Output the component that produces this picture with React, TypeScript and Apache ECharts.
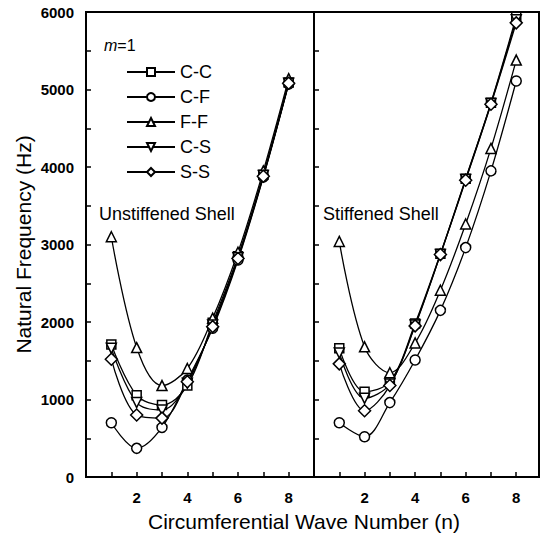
import React, { useEffect, useRef } from "react";
import * as echarts from "echarts";

const waveNumbers = [1, 2, 3, 4, 5, 6, 7, 8];
const seriesNames = ["C-C", "C-F", "F-F", "C-S", "S-S"];

// Unstiffened shell (Hz)
const ccUnstiff = [1710, 1055, 930, 1180, 1990, 2850, 3900, 5090];
const cfUnstiff = [700, 370, 640, 1250, 1920, 2800, 3870, 5070];
const ffUnstiff = [3100, 1670, 1180, 1400, 2050, 2900, 3950, 5140];
const csUnstiff = [1660, 960, 865, 1210, 1960, 2830, 3890, 5080];
const ssUnstiff = [1520, 800, 760, 1230, 1940, 2820, 3880, 5080];

// Stiffened shell (Hz)
const ccStiff = [1660, 1100, 1230, 1980, 2880, 3850, 4830, 5940];
const cfStiff = [700, 520, 960, 1510, 2150, 2960, 3950, 5110];
const ffStiff = [3040, 1680, 1345, 1730, 2410, 3265, 4240, 5380];
const csStiff = [1600, 1015, 1200, 1960, 2870, 3840, 4820, 5900];
const ssStiff = [1460, 855, 1180, 1950, 2870, 3830, 4810, 5860];

const yTickLabels = [0, 1000, 2000, 3000, 4000, 5000, 6000];
const xTickLabels = [2, 4, 6, 8];

const FONT = "'Liberation Sans', Arial, sans-serif";

const symbols: Record<string, { symbol: string; size: number; rotate: number }> = {
  "C-C": { symbol: "rect", size: 9, rotate: 0 },
  "C-F": { symbol: "circle", size: 10, rotate: 0 },
  "F-F": { symbol: "triangle", size: 10, rotate: 0 },
  "C-S": { symbol: "triangle", size: 10, rotate: 180 },
  "S-S": { symbol: "diamond", size: 12, rotate: 0 },
};

export default function App() {
  const ref = useRef<HTMLDivElement>(null);
  useEffect(() => {
    if (!ref.current) return;
    const chart = echarts.init(ref.current, null, { renderer: "svg" });
    const unstiff = [ccUnstiff, cfUnstiff, ffUnstiff, csUnstiff, ssUnstiff];
    const stiff = [ccStiff, cfStiff, ffStiff, csStiff, ssStiff];

    const mkSeries = (arr: number[][], idx: number) =>
      seriesNames.map((name, i) => ({
        name,
        type: "line",
        xAxisIndex: idx,
        yAxisIndex: idx,
        data: waveNumbers.map((n, k) => [n, arr[i][k]]),
        smooth: 0.35,
        symbol: symbols[name].symbol,
        symbolSize: symbols[name].size,
        symbolRotate: symbols[name].rotate,
        showAllSymbol: true,
        lineStyle: { color: "#000", width: 1.3 },
        itemStyle: { color: "#fff", borderColor: "#000", borderWidth: 1.5 },
        z: 3,
      }));

    const yFmt = (v: number) => (yTickLabels.includes(v) ? String(v) : "");
    const xFmt = (v: number) => (xTickLabels.includes(v) ? String(v) : "");

    const axisLine = { show: true, lineStyle: { color: "#000", width: 2 } };
    const axisTick = { show: true, inside: true, length: 5, lineStyle: { color: "#000", width: 1.5 } };
    const labelStyle = { color: "#000", fontFamily: FONT, fontSize: 15, fontWeight: "bold" as const };

    chart.setOption({
      animation: false,
      backgroundColor: "#fff",
      grid: [
        { left: 86, top: 12, width: 228, height: 465, show: true, borderColor: "#000", borderWidth: 2 },
        { left: 314, top: 12, width: 225, height: 465, show: true, borderColor: "#000", borderWidth: 2 },
      ],
      xAxis: [
        {
          type: "value", gridIndex: 0, min: 0, max: 9, interval: 1,
          axisLine, axisTick,
          axisLabel: { ...labelStyle, margin: 13, formatter: xFmt },
          splitLine: { show: false },
        },
        {
          type: "value", gridIndex: 1, min: 0, max: 8.9, interval: 1,
          axisLine, axisTick,
          axisLabel: { ...labelStyle, margin: 13, formatter: xFmt, showMaxLabel: false },
          splitLine: { show: false },
        },
      ],
      yAxis: [
        {
          type: "value", gridIndex: 0, min: 0, max: 6000, interval: 500,
          axisLine, axisTick,
          axisLabel: { ...labelStyle, margin: 12, formatter: yFmt },
          splitLine: { show: false },
          name: "Natural Frequency (Hz)",
          nameLocation: "middle",
          nameGap: 52,
          nameTextStyle: { color: "#000", fontFamily: FONT, fontSize: 21 },
        },
        {
          type: "value", gridIndex: 1, min: 0, max: 6000, interval: 500,
          axisLine, axisTick,
          axisLabel: { show: false },
          splitLine: { show: false },
        },
      ],
      legend: {
        data: seriesNames,
        orient: "vertical",
        left: 126,
        top: 63,
        padding: 0,
        itemWidth: 48,
        itemHeight: 10,
        itemGap: 7,
        textStyle: { color: "#000", fontFamily: FONT, fontSize: 18 },
        selectedMode: false,
      },
      graphic: [
        {
          type: "text", left: 104, top: 37,
          style: {
            text: "{i|m}=1",
            fontFamily: FONT, fontSize: 16, fill: "#000",
            rich: { i: { fontStyle: "italic", fontFamily: FONT, fontSize: 16 } },
          },
        },
        {
          type: "text", left: 99, top: 205,
          style: { text: "Unstiffened Shell", fontFamily: FONT, fontSize: 18, fill: "#000" },
        },
        {
          type: "text", left: 323, top: 205,
          style: { text: "Stiffened Shell", fontFamily: FONT, fontSize: 18, fill: "#000" },
        },
        {
          type: "text", left: 148, top: 511,
          style: { text: "Circumferential Wave Number (n)", fontFamily: FONT, fontSize: 21, fill: "#000" },
        },
      ],
      series: [...mkSeries(unstiff, 0), ...mkSeries(stiff, 1)],
    });
    return () => chart.dispose();
  }, []);
  return <div ref={ref} style={{ position: "fixed", left: 0, top: 0, width: 541, height: 535 }} />;
}
